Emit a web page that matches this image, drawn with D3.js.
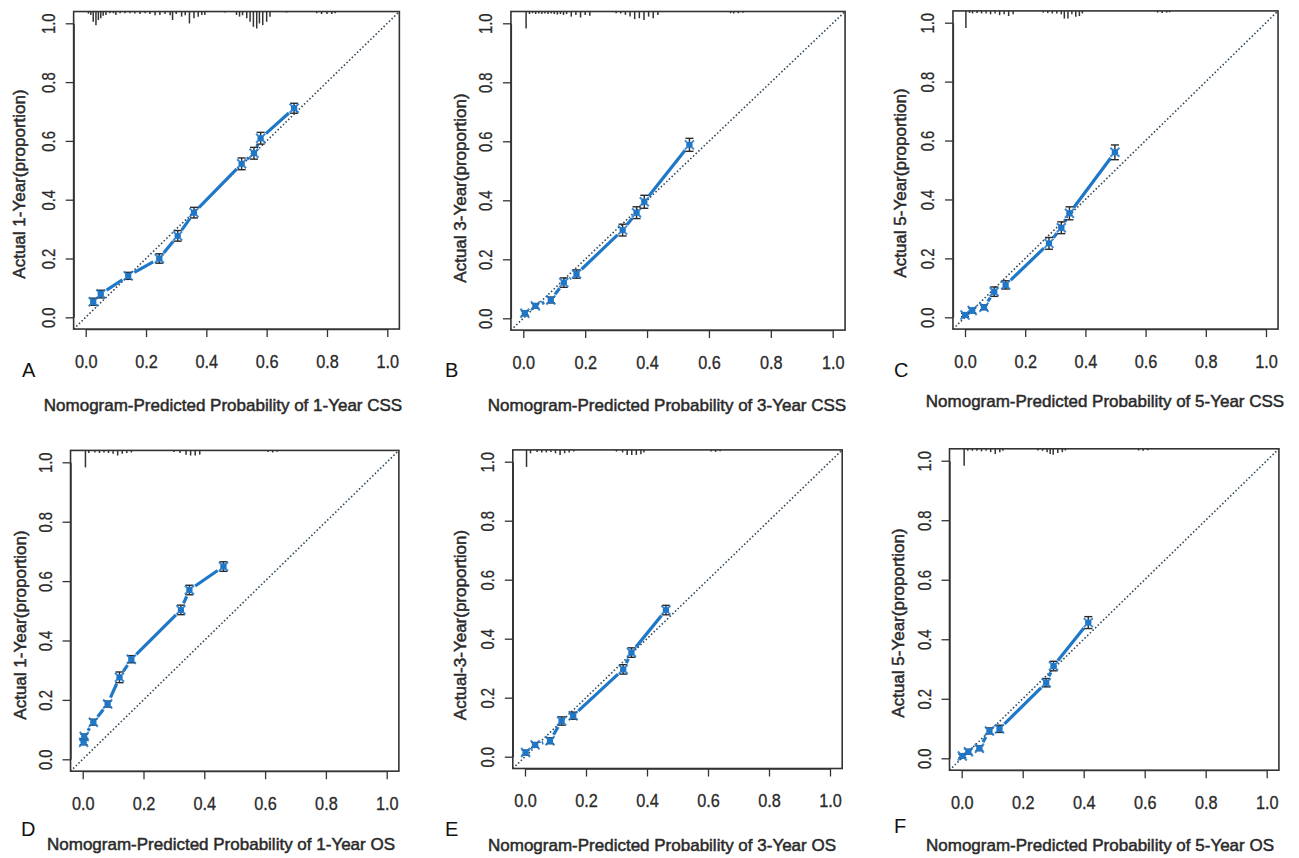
<!DOCTYPE html>
<html>
<head>
<meta charset="utf-8">
<script src="https://cdn.jsdelivr.net/npm/d3@7"></script>
<style>
  html, body { margin: 0; padding: 0; background: #fff; }
  svg { display: block; }
</style>
</head>
<body>
<svg id="chart" width="1299" height="858"></svg>
<script>
// ---------------- DATA ----------------
const tickValues = [0, 0.2, 0.4, 0.6, 0.8, 1.0];
const panelLetters = ["A", "B", "C", "D", "E", "F"];
const xTitles = [
  "Nomogram-Predicted Probability of 1-Year CSS",
  "Nomogram-Predicted Probability of 3-Year CSS",
  "Nomogram-Predicted Probability of 5-Year CSS",
  "Nomogram-Predicted Probability of 1-Year OS",
  "Nomogram-Predicted Probability of 3-Year OS",
  "Nomogram-Predicted Probability of 5-Year OS"
];
const yTitles = [
  "Actual 1-Year(proportion)",
  "Actual 3-Year(proportion)",
  "Actual 5-Year(proportion)",
  "Actual 1-Year(proportion)",
  "Actual-3-Year(proportion)",
  "Actual 5-Year(proportion)"
];

// Panel A: 1-year CSS
const predA = [0.025, 0.05, 0.141, 0.244, 0.305, 0.359, 0.517, 0.558, 0.58, 0.691];
const obsA  = [0.053, 0.079, 0.141, 0.200, 0.277, 0.356, 0.522, 0.558, 0.609, 0.711];
const ciA   = [0.012, 0.013, 0.012, 0.016, 0.018, 0.018, 0.020, 0.020, 0.020, 0.017];
const rugXA = [0.009,0.017,0.025,0.034,0.042,0.05,0.058,0.067,0.08,0.092,0.10,0.114,0.13,0.147,0.163,0.18,0.197,0.213,0.23,0.246,0.263,0.28,0.288,0.30,0.318,0.33,0.344,0.359,0.373,0.385,0.395,0.462,0.50,0.51,0.52,0.534,0.545,0.556,0.567,0.576,0.587,0.60,0.611,0.666,0.766,0.782,0.80,0.816,0.827];
const rugHA = [0.12,0.2,0.6,0.8,0.5,0.4,0.25,0.2,0.1,0.1,0.2,0.1,0.1,0.1,0.12,0.15,0.1,0.15,0.22,0.2,0.15,0.22,0.5,0.15,0.3,0.22,0.7,0.4,0.3,0.2,0.2,0.06,0.2,0.3,0.22,0.4,0.6,0.9,1.0,0.7,0.8,0.6,0.3,0.06,0.1,0.15,0.15,0.15,0.1];

// Panel B: 3-year CSS
const predB = [0.005, 0.039, 0.089, 0.131, 0.172, 0.321, 0.366, 0.391, 0.537];
const obsB  = [0.017, 0.042, 0.062, 0.121, 0.150, 0.299, 0.358, 0.395, 0.588];
const ciB   = [0.008, 0.008, 0.010, 0.016, 0.014, 0.020, 0.020, 0.022, 0.022];
const rugXB = [0.009,0.02,0.03,0.04,0.05,0.06,0.07,0.08,0.09,0.10,0.11,0.12,0.13,0.14,0.155,0.17,0.185,0.20,0.215,0.30,0.315,0.33,0.345,0.36,0.375,0.39,0.405,0.42,0.435,0.67,0.68,0.695,0.71];
const rugHB = [1.0,0.15,0.1,0.15,0.12,0.15,0.12,0.15,0.12,0.15,0.18,0.15,0.2,0.15,0.3,0.2,0.35,0.2,0.25,0.1,0.12,0.2,0.3,0.45,0.4,0.5,0.3,0.4,0.2,0.1,0.12,0.1,0.08];

// Panel C: 5-year CSS
const predC = [0.0, 0.024, 0.063, 0.097, 0.135, 0.279, 0.320, 0.347, 0.498];
const obsC  = [0.008, 0.023, 0.034, 0.087, 0.110, 0.251, 0.304, 0.353, 0.560];
const ciC   = [0.006, 0.008, 0.008, 0.016, 0.014, 0.020, 0.020, 0.022, 0.025];
const rugXC = [0.003,0.015,0.025,0.04,0.055,0.07,0.085,0.10,0.115,0.13,0.145,0.16,0.26,0.275,0.29,0.305,0.32,0.33,0.342,0.355,0.368,0.38,0.39,0.64,0.655,0.67,0.68];
const rugHC = [1.0,0.12,0.15,0.12,0.15,0.15,0.2,0.15,0.25,0.2,0.3,0.2,0.1,0.12,0.15,0.15,0.2,0.45,0.45,0.2,0.35,0.3,0.15,0.1,0.12,0.1,0.08];

// Panel D: 1-year OS
const predD = [0.003, 0.005, 0.035, 0.082, 0.121, 0.160, 0.323, 0.351, 0.463];
const obsD  = [0.057, 0.077, 0.125, 0.186, 0.276, 0.337, 0.503, 0.570, 0.649];
const ciD   = [0.008, 0.008, 0.010, 0.010, 0.018, 0.012, 0.016, 0.016, 0.016];
const rugXD = [0.009,0.02,0.04,0.055,0.07,0.085,0.10,0.115,0.13,0.145,0.16,0.30,0.32,0.34,0.355,0.37,0.385,0.61,0.625,0.64];
const rugHD = [1.0,0.15,0.12,0.15,0.12,0.15,0.2,0.3,0.2,0.15,0.12,0.1,0.15,0.25,0.3,0.3,0.25,0.1,0.12,0.08];

// Panel E: 3-year OS
const predE = [0.002, 0.033, 0.082, 0.120, 0.158, 0.322, 0.349, 0.462];
const obsE  = [0.014, 0.040, 0.054, 0.121, 0.139, 0.296, 0.353, 0.497];
const ciE   = [0.008, 0.008, 0.010, 0.014, 0.012, 0.016, 0.016, 0.016];
const rugXE = [0.005,0.018,0.04,0.055,0.07,0.085,0.10,0.115,0.13,0.145,0.16,0.30,0.32,0.335,0.35,0.365,0.38,0.39,0.61,0.625,0.64];
const rugHE = [1.0,0.2,0.12,0.15,0.15,0.12,0.2,0.3,0.2,0.15,0.1,0.1,0.15,0.3,0.3,0.3,0.25,0.15,0.1,0.12,0.08];

// Panel F: 5-year OS
const predF = [0.002, 0.022, 0.058, 0.091, 0.124, 0.277, 0.301, 0.415];
const obsF  = [0.008, 0.022, 0.034, 0.092, 0.099, 0.254, 0.310, 0.456];
const ciF   = [0.006, 0.008, 0.008, 0.010, 0.012, 0.014, 0.016, 0.020];
const rugXF = [0.008,0.02,0.035,0.05,0.065,0.08,0.095,0.11,0.125,0.135,0.25,0.265,0.28,0.29,0.30,0.315,0.33,0.34,0.58,0.595,0.61];
const rugHF = [1.0,0.12,0.12,0.12,0.15,0.12,0.2,0.3,0.2,0.12,0.1,0.12,0.2,0.3,0.35,0.25,0.2,0.1,0.1,0.12,0.08];

// ---------------- LAYOUT ----------------
const layout = [
  { xr: [85.7, 387.3], yr: [317.3, 23.3], yTitleX: 25, yTitleY: 184, xTitleX: 223, xTitleY: 410.5, letterX: 22, letterY: 377 },
  { xr: [523.3, 832.7], yr: [318.3, 23.3], yTitleX: 465.5, yTitleY: 188, xTitleX: 667, xTitleY: 410.5, letterX: 445, letterY: 377 },
  { xr: [965, 1266], yr: [317.3, 22.7], yTitleX: 905.5, yTitleY: 183, xTitleX: 1105, xTitleY: 407, letterX: 894, letterY: 377 },
  { xr: [82.7, 386.7], yr: [759.3, 462.3], yTitleX: 25.5, yTitleY: 625, xTitleX: 221, xTitleY: 849.5, letterX: 21, letterY: 836 },
  { xr: [525, 830], yr: [756.7, 461.7], yTitleX: 465.5, yTitleY: 625, xTitleX: 662, xTitleY: 850.5, letterX: 445, letterY: 836 },
  { xr: [961.7, 1266.7], yr: [758.3, 460.7], yTitleX: 904, yTitleY: 623, xTitleX: 1100, xTitleY: 850.5, letterX: 894, letterY: 833 }
];

const seriesData = [
  { pred: predA, obs: obsA, ci: ciA, rugX: rugXA, rugH: rugHA },
  { pred: predB, obs: obsB, ci: ciB, rugX: rugXB, rugH: rugHB },
  { pred: predC, obs: obsC, ci: ciC, rugX: rugXC, rugH: rugHC },
  { pred: predD, obs: obsD, ci: ciD, rugX: rugXD, rugH: rugHD },
  { pred: predE, obs: obsE, ci: ciE, rugX: rugXE, rugH: rugHE },
  { pred: predF, obs: obsF, ci: ciF, rugX: rugXF, rugH: rugHF }
];

const FONT = "'Liberation Sans', Arial, Helvetica, sans-serif";
const INK = "#2a2a2a";
const BLUE = "#1f77c8";
const rugLen = d3.scaleLinear().domain([0, 1]).range([0, 17]);

const svg = d3.select("#chart");
svg.append("rect").attr("width", 1299).attr("height", 858).attr("fill", "#fff");

seriesData.forEach((s, i) => {
  const L = layout[i];
  const x = d3.scaleLinear().domain([0, 1]).range(L.xr);
  const y = d3.scaleLinear().domain([0, 1]).range(L.yr);
  const g = svg.append("g");

  const left = x(-0.04), right = x(1.04), top = y(1.04), bottom = y(-0.04);

  // diagonal reference (dotted)
  g.append("line")
    .attr("x1", left).attr("y1", bottom).attr("x2", right).attr("y2", top)
    .attr("stroke", "#2f4656").attr("stroke-width", 1.6)
    .attr("stroke-dasharray", "1.5,2.2");

  // rug (distribution of predictions) hanging from the top edge
  g.selectAll("line.rug").data(s.rugX.map((v, k) => ({ v, h: s.rugH[k] })))
    .join("line").attr("class", "rug")
    .attr("x1", d => x(d.v)).attr("x2", d => x(d.v))
    .attr("y1", top).attr("y2", d => top + rugLen(d.h))
    .attr("stroke", "#333").attr("stroke-width", 1.5);

  // calibration line: segments with gaps around points (type = "b")
  const pts = s.pred.map((p, k) => ({ px: x(p), py: y(s.obs[k]), lo: y(s.obs[k] - s.ci[k]), hi: y(s.obs[k] + s.ci[k]) }));
  const gap = 7;
  const segs = [];
  for (let k = 0; k < pts.length - 1; k++) {
    const a = pts[k], b = pts[k + 1];
    const dx = b.px - a.px, dy = b.py - a.py;
    const len = Math.hypot(dx, dy);
    if (len > 2 * gap + 1) {
      const ux = dx / len, uy = dy / len;
      segs.push([a.px + ux * gap, a.py + uy * gap, b.px - ux * gap, b.py - uy * gap]);
    }
  }
  g.selectAll("line.seg").data(segs).join("line").attr("class", "seg")
    .attr("x1", d => d[0]).attr("y1", d => d[1]).attr("x2", d => d[2]).attr("y2", d => d[3])
    .attr("stroke", BLUE).attr("stroke-width", 3.2).attr("stroke-linecap", "butt");

  // error bars
  const eb = g.selectAll("g.eb").data(pts).join("g").attr("class", "eb");
  eb.append("line").attr("x1", d => d.px).attr("x2", d => d.px).attr("y1", d => d.lo).attr("y2", d => d.hi)
    .attr("stroke", INK).attr("stroke-width", 1.4);
  eb.append("line").attr("x1", d => d.px - 4).attr("x2", d => d.px + 4).attr("y1", d => d.lo).attr("y2", d => d.lo)
    .attr("stroke", INK).attr("stroke-width", 1.4);
  eb.append("line").attr("x1", d => d.px - 4).attr("x2", d => d.px + 4).attr("y1", d => d.hi).attr("y2", d => d.hi)
    .attr("stroke", INK).attr("stroke-width", 1.4);
  // markers
  eb.append("circle").attr("cx", d => d.px).attr("cy", d => d.py).attr("r", 3.2).attr("fill", BLUE);
  eb.append("path").attr("d", d => `M${d.px - 4.5},${d.py - 4.5}L${d.px + 4.5},${d.py + 4.5}M${d.px - 4.5},${d.py + 4.5}L${d.px + 4.5},${d.py - 4.5}`)
    .attr("stroke", BLUE).attr("stroke-width", 2).attr("opacity", 0.85);

  // box
  g.append("rect").attr("x", left).attr("y", top).attr("width", right - left).attr("height", bottom - top)
    .attr("fill", "none").attr("stroke", "#333").attr("stroke-width", 1.6);

  // axes
  const xAxis = d3.axisBottom(x).tickValues(tickValues).tickSize(8).tickSizeOuter(0).tickFormat(d3.format(".1f"));
  const gx = g.append("g").attr("transform", `translate(0,${bottom})`).call(xAxis);
  gx.select(".domain").attr("stroke", "#333").attr("stroke-width", 1.3);
  gx.selectAll(".tick line").attr("stroke", "#333").attr("stroke-width", 1.3);
  gx.selectAll(".tick text")
    .attr("y", 39).attr("dy", null)
    .attr("transform", "scale(0.88,1)")
    .attr("fill", INK).attr("stroke", INK).attr("stroke-width", 0.3)
    .attr("font-family", FONT).attr("font-size", 18.5);

  const yAxis = d3.axisLeft(y).tickValues(tickValues).tickSize(8).tickSizeOuter(0).tickFormat(d3.format(".1f"));
  const gy = g.append("g").attr("transform", `translate(${left},0)`).call(yAxis);
  gy.select(".domain").attr("stroke", "#333").attr("stroke-width", 1.3);
  gy.selectAll(".tick line").attr("stroke", "#333").attr("stroke-width", 1.3);
  gy.selectAll(".tick text")
    .attr("x", 0).attr("y", -19).attr("dy", null)
    .attr("text-anchor", "middle")
    .attr("transform", "rotate(-90) scale(0.8,1)")
    .attr("fill", INK).attr("stroke", INK).attr("stroke-width", 0.3)
    .attr("font-family", FONT).attr("font-size", 18.5);

  // titles
  g.append("text")
    .attr("transform", `translate(${L.yTitleX},${L.yTitleY}) rotate(-90)`)
    .attr("text-anchor", "middle")
    .attr("font-family", FONT).attr("font-size", 17)
    .attr("fill", INK).attr("stroke", INK).attr("stroke-width", 0.5)
    .text(yTitles[i]);

  g.append("text")
    .attr("x", L.xTitleX).attr("y", L.xTitleY)
    .attr("text-anchor", "middle")
    .attr("font-family", FONT).attr("font-size", 17)
    .attr("fill", INK).attr("stroke", INK).attr("stroke-width", 0.5)
    .text(xTitles[i]);

  g.append("text")
    .attr("x", L.letterX).attr("y", L.letterY)
    .attr("font-family", FONT).attr("font-size", 20)
    .attr("fill", "#111")
    .text(panelLetters[i]);
});
</script>
</body>
</html>
